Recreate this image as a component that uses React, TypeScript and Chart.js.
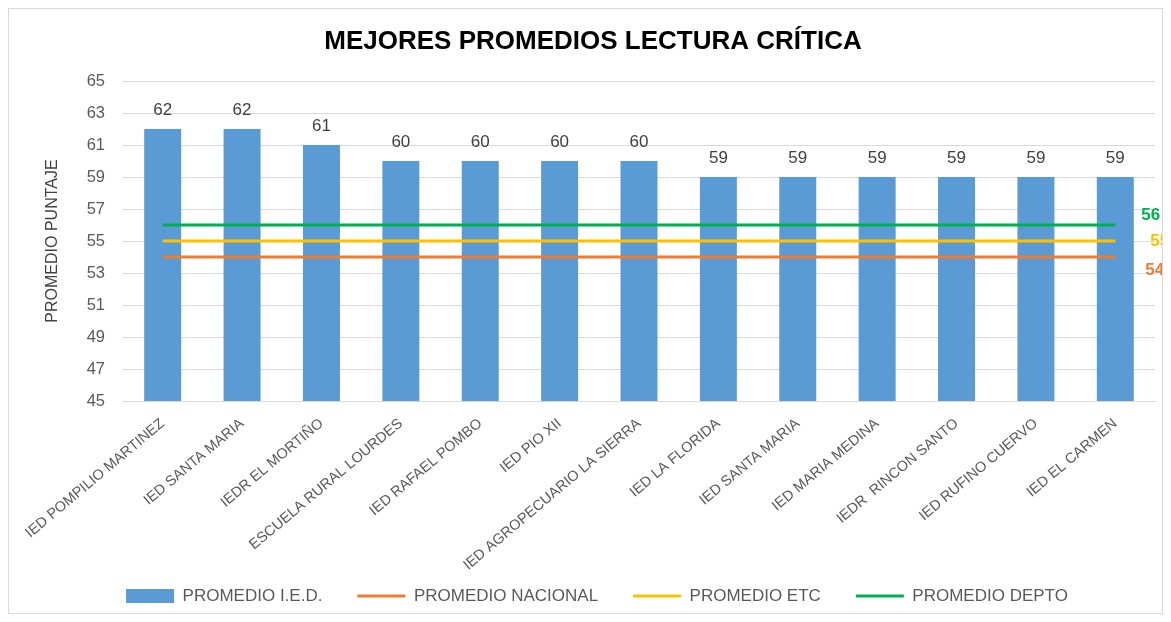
import React, { useEffect, useRef } from "react";
import { Chart, registerables } from "chart.js";

Chart.register(...registerables);

const categories = [
  "IED POMPILIO MARTINEZ",
  "IED SANTA MARIA",
  "IEDR EL MORTIÑO",
  "ESCUELA RURAL LOURDES",
  "IED RAFAEL POMBO",
  "IED PIO XII",
  "IED AGROPECUARIO LA SIERRA",
  "IED LA FLORIDA",
  "IED SANTA MARIA",
  "IED MARIA MEDINA",
  "IEDR  RINCON SANTO",
  "IED RUFINO CUERVO",
  "IED EL CARMEN",
];

const promedioIED = [62, 62, 61, 60, 60, 60, 60, 59, 59, 59, 59, 59, 59];
const promedioNacional = [54, 54, 54, 54, 54, 54, 54, 54, 54, 54, 54, 54, 54];
const promedioETC = [55, 55, 55, 55, 55, 55, 55, 55, 55, 55, 55, 55, 55];
const promedioDepto = [56, 56, 56, 56, 56, 56, 56, 56, 56, 56, 56, 56, 56];

const yTicks = [45, 47, 49, 51, 53, 55, 57, 59, 61, 63, 65];

const FONT = "'Liberation Sans', Arial, sans-serif";
const W = 1153;
const H = 604;
const PLOT_TOP = 72;
const PLOT_BOTTOM = 392;
const PLOT_LEFT = 114;

const barLabels = {
  id: "barLabels",
  afterDatasetsDraw(chart: any) {
    const ctx = chart.ctx;
    const meta = chart.getDatasetMeta(0);
    ctx.save();
    ctx.font = `17px ${FONT}`;
    ctx.fillStyle = "#404040";
    ctx.textAlign = "center";
    ctx.textBaseline = "middle";
    meta.data.forEach((bar: any, i: number) => {
      ctx.fillText(String(chart.data.datasets[0].data[i]), bar.x, bar.y - 19);
    });
    ctx.restore();
  },
};

const lineEndLabels = {
  id: "lineEndLabels",
  afterDatasetsDraw(chart: any, _args: any, opts: any) {
    const ctx = chart.ctx;
    ctx.save();
    ctx.font = `bold 17px ${FONT}`;
    ctx.textAlign = "left";
    ctx.textBaseline = "middle";
    (opts.items || []).forEach((it: any) => {
      const ds = chart.data.datasets[it.index];
      const meta = chart.getDatasetMeta(it.index);
      const n = meta.data.length - 1;
      const pt = meta.data[n];
      ctx.fillStyle = ds.borderColor;
      ctx.fillText(String(ds.data[n]), pt.x + it.dx, pt.y + it.dy);
    });
    ctx.restore();
  },
};

const legendShift = {
  id: "legendShift",
  afterLayout(chart: any, _args: any, opts: any) {
    const l = chart.legend;
    if (l) {
      const pad = l.options.labels.padding;
      const desiredTop = opts.centerY - pad - 8.5;
      const dy = desiredTop - l.top;
      l.top += dy;
      l.bottom += dy;
      l.left += opts.dx;
      l.right += opts.dx;
    }
    const t = chart.titleBlock;
    if (t) {
      t.left += opts.titleDx;
      t.right += opts.titleDx;
    }
    const x = chart.scales.x;
    if (x) {
      x.bottom = chart.height;
      x.height = x.bottom - x.top;
    }
  },
};

export default function App() {
  const ref = useRef<HTMLCanvasElement | null>(null);

  useEffect(() => {
    if (!ref.current) return;
    const chart = new Chart(ref.current, {
      type: "bar",
      data: {
        labels: categories,
        datasets: [
          {
            type: "bar",
            label: "PROMEDIO I.E.D.",
            data: promedioIED,
            backgroundColor: "#5B9BD5",
            borderWidth: 0,
            barPercentage: 0.466,
            categoryPercentage: 1,
            order: 1,
          } as any,
          {
            type: "line",
            label: "PROMEDIO NACIONAL",
            data: promedioNacional,
            borderColor: "#ED7D31",
            backgroundColor: "#ED7D31",
            borderWidth: 3,
            pointRadius: 0,
            pointStyle: "line",
            order: 0,
          },
          {
            type: "line",
            label: "PROMEDIO ETC",
            data: promedioETC,
            borderColor: "#FFC000",
            backgroundColor: "#FFC000",
            borderWidth: 3,
            pointRadius: 0,
            pointStyle: "line",
            order: 0,
          },
          {
            type: "line",
            label: "PROMEDIO DEPTO",
            data: promedioDepto,
            borderColor: "#00B050",
            backgroundColor: "#00B050",
            borderWidth: 3,
            pointRadius: 0,
            pointStyle: "line",
            order: 0,
          },
        ],
      },
      options: {
        responsive: false,
        animation: false,
        devicePixelRatio: 1,
        layout: { padding: { left: 0, right: 7, top: 0, bottom: 0 } },
        scales: {
          x: {
            grid: { display: false, drawTicks: false },
            border: { display: true, color: "#d9d9d9", width: 1 },
            ticks: {
              autoSkip: false,
              maxRotation: 40,
              minRotation: 40,
              padding: 14,
              color: "#595959",
              font: { family: FONT, size: 14.5 },
            },
            afterFit: (scale: any) => {
              const lg = scale.chart.legend;
              scale.height = H - PLOT_BOTTOM - (lg ? lg.height : 0);
            },
          },
          y: {
            min: 45,
            max: 65,
            afterBuildTicks: (scale: any) => {
              scale.ticks = yTicks.map((v) => ({ value: v }));
            },
            grid: { color: "#d9d9d9", drawTicks: false, lineWidth: 1 },
            border: { display: false },
            ticks: {
              padding: 18,
              color: "#595959",
              font: { family: FONT, size: 16.5 },
            },
            title: {
              display: true,
              text: "PROMEDIO PUNTAJE",
              color: "#404040",
              font: { family: FONT, size: 16 },
              padding: { top: 34, bottom: 0 },
            },
            afterFit: (scale: any) => {
              scale.width = PLOT_LEFT;
            },
          },
        },
        plugins: {
          title: {
            display: true,
            text: "MEJORES PROMEDIOS LECTURA CRÍTICA",
            color: "#000000",
            font: { family: FONT, size: 26, weight: "bold" },
            padding: { top: 17, bottom: PLOT_TOP - 17 - 31.2 },
          },
          legend: {
            position: "bottom",
            labels: {
              usePointStyle: true,
              pointStyleWidth: 48,
              boxHeight: 14,
              padding: 35,
              color: "#595959",
              font: { family: FONT, size: 17 },
              sort: (a: any, b: any) => a.datasetIndex - b.datasetIndex,
              generateLabels: (chart: any) => {
                const items = Chart.defaults.plugins.legend.labels.generateLabels(chart);
                return items.map((it: any) => {
                  if (it.datasetIndex === 0) {
                    return { ...it, pointStyle: "rect", lineWidth: 0 };
                  }
                  const ds = chart.data.datasets[it.datasetIndex];
                  return { ...it, pointStyle: "line", lineWidth: 3, strokeStyle: ds.borderColor };
                });
              },
            },
          },
          tooltip: { enabled: false },
          lineEndLabels: {
            items: [
              { index: 3, dx: 26, dy: -10 },
              { index: 2, dx: 35, dy: 0 },
              { index: 1, dx: 30, dy: 13 },
            ],
          },
          legendShift: { centerY: 587, dx: 15, titleDx: 11 },
        } as any,
      },
      plugins: [barLabels, lineEndLabels, legendShift],
    });
    return () => chart.destroy();
  }, []);

  return (
    <div
      style={{
        width: W + 2,
        height: H + 2,
        border: "1px solid #d9d9d9",
        boxSizing: "border-box",
        background: "#ffffff",
      }}
    >
      <canvas ref={ref} width={W} height={H} style={{ display: "block", width: W, height: H }} />
    </div>
  );
}
